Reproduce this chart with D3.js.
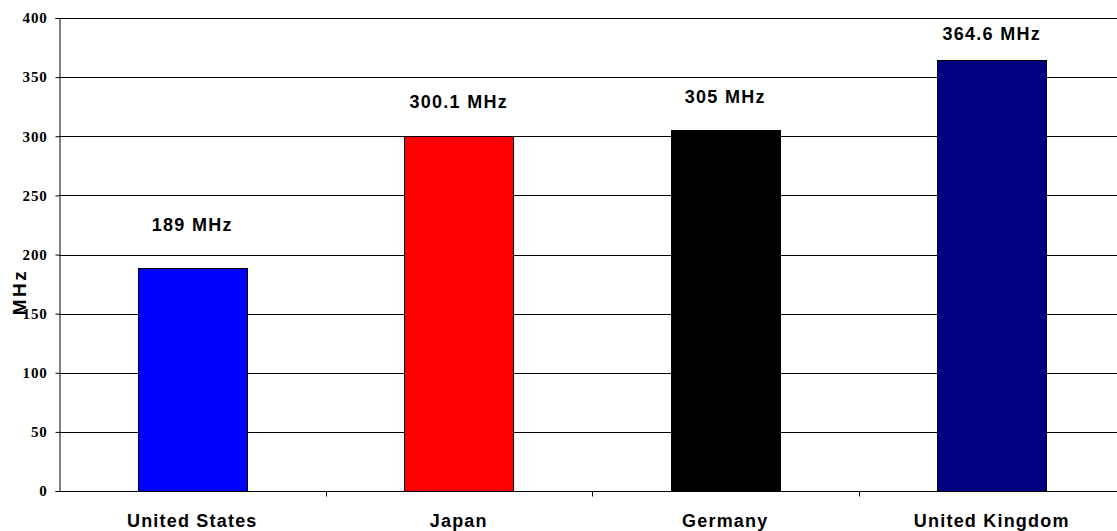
<!DOCTYPE html>
<meta charset="utf-8">
<html>
<head>
<script src="https://cdn.jsdelivr.net/npm/d3@7"></script>
<style>
body { margin: 0; background: #fff; }
.tick-y { font: bold 15px "Liberation Serif", "Times New Roman", serif; letter-spacing: 0.8px; }
.cat { font: bold 18px "Liberation Sans", Arial, sans-serif; letter-spacing: 1.2px; }
.val { font: bold 18px "Liberation Sans", Arial, sans-serif; letter-spacing: 1.3px; }
.ttl { font: bold 19px "Liberation Sans", Arial, sans-serif; letter-spacing: 2.5px; }
</style>
</head>
<body>
<script>

// chart data
var countries = ["United States", "Japan", "Germany", "United Kingdom"];
var speeds = [189, 300.1, 305, 364.6];
var valueLabels = ["189 MHz", "300.1 MHz", "305 MHz", "364.6 MHz"];
var barColors = ["#0000ff", "#ff0000", "#000000", "#000080"];
var yTicks = [0, 50, 100, 150, 200, 250, 300, 350, 400];

// label gap above each bar (layout only)
var labelGap = [37, 28, 27, 20];

var width = 1117, height = 531;
var plotLeft = 59, plotTop = 18, plotRight = 1125, plotBottom = 491;

var svg = d3.select("body").append("svg")
    .attr("width", width)
    .attr("height", height);

var x = d3.scaleBand()
    .domain(countries)
    .range([plotLeft, plotRight])
    .paddingInner(0.59)
    .paddingOuter(0.295);

var y = d3.scaleLinear()
    .domain([0, 400])
    .range([plotBottom, plotTop]);

// gridlines
svg.append("g")
  .selectAll("line")
  .data(yTicks)
  .enter().append("line")
    .attr("x1", plotLeft)
    .attr("x2", plotRight)
    .attr("y1", d => Math.round(y(d)) + 0.5)
    .attr("y2", d => Math.round(y(d)) + 0.5)
    .attr("stroke", "#000")
    .attr("stroke-width", 1);

// bars
svg.append("g")
  .selectAll("rect")
  .data(countries)
  .enter().append("rect")
    .attr("x", d => Math.round(x(d)) + 0.5)
    .attr("y", (d, i) => Math.round(y(speeds[i])) + 0.5)
    .attr("width", Math.round(x.bandwidth()))
    .attr("height", (d, i) => Math.round(y(0)) - Math.round(y(speeds[i])))
    .attr("fill", (d, i) => barColors[i])
    .attr("stroke", "#000")
    .attr("stroke-width", 1);

// y axis
var yAxis = svg.append("g")
    .attr("transform", "translate(" + (plotLeft + 0.5) + ",0)")
    .call(d3.axisLeft(y).tickValues(yTicks).tickSize(4).tickPadding(8));
yAxis.select(".domain").attr("stroke", "#000");
yAxis.selectAll(".tick line").attr("stroke", "#000");
yAxis.selectAll(".tick text").attr("class", "tick-y").attr("fill", "#000");
yAxis.attr("font-family", null).attr("font-size", null);

// x axis: ticks at category boundaries
var xAxisG = svg.append("g")
    .attr("transform", "translate(0," + (plotBottom + 0.5) + ")");
xAxisG.append("line")
    .attr("x1", plotLeft).attr("x2", plotRight)
    .attr("stroke", "#000");
var step = x.step();
var bounds = countries.slice(1).map(d => x(d) - x.paddingInner() * step / 2);
xAxisG.selectAll(".xt")
  .data(bounds)
  .enter().append("line")
    .attr("x1", d => Math.round(d) + 0.5)
    .attr("x2", d => Math.round(d) + 0.5)
    .attr("y1", 0).attr("y2", 5)
    .attr("stroke", "#000");

svg.append("g")
  .selectAll("text")
  .data(countries)
  .enter().append("text")
    .attr("class", "cat")
    .attr("x", d => x(d) + x.bandwidth() / 2)
    .attr("y", 527)
    .attr("text-anchor", "middle")
    .text(d => d);

// value labels
svg.append("g")
  .selectAll("text")
  .data(valueLabels)
  .enter().append("text")
    .attr("class", "val")
    .attr("x", (d, i) => x(countries[i]) + x.bandwidth() / 2)
    .attr("y", (d, i) => y(speeds[i]) - labelGap[i])
    .attr("text-anchor", "middle")
    .text(d => d);

// y axis title
svg.append("text")
    .attr("class", "ttl")
    .attr("transform", "translate(26,292) rotate(-90)")
    .attr("text-anchor", "middle")
    .text("MHz");

</script>
</body>
</html>
